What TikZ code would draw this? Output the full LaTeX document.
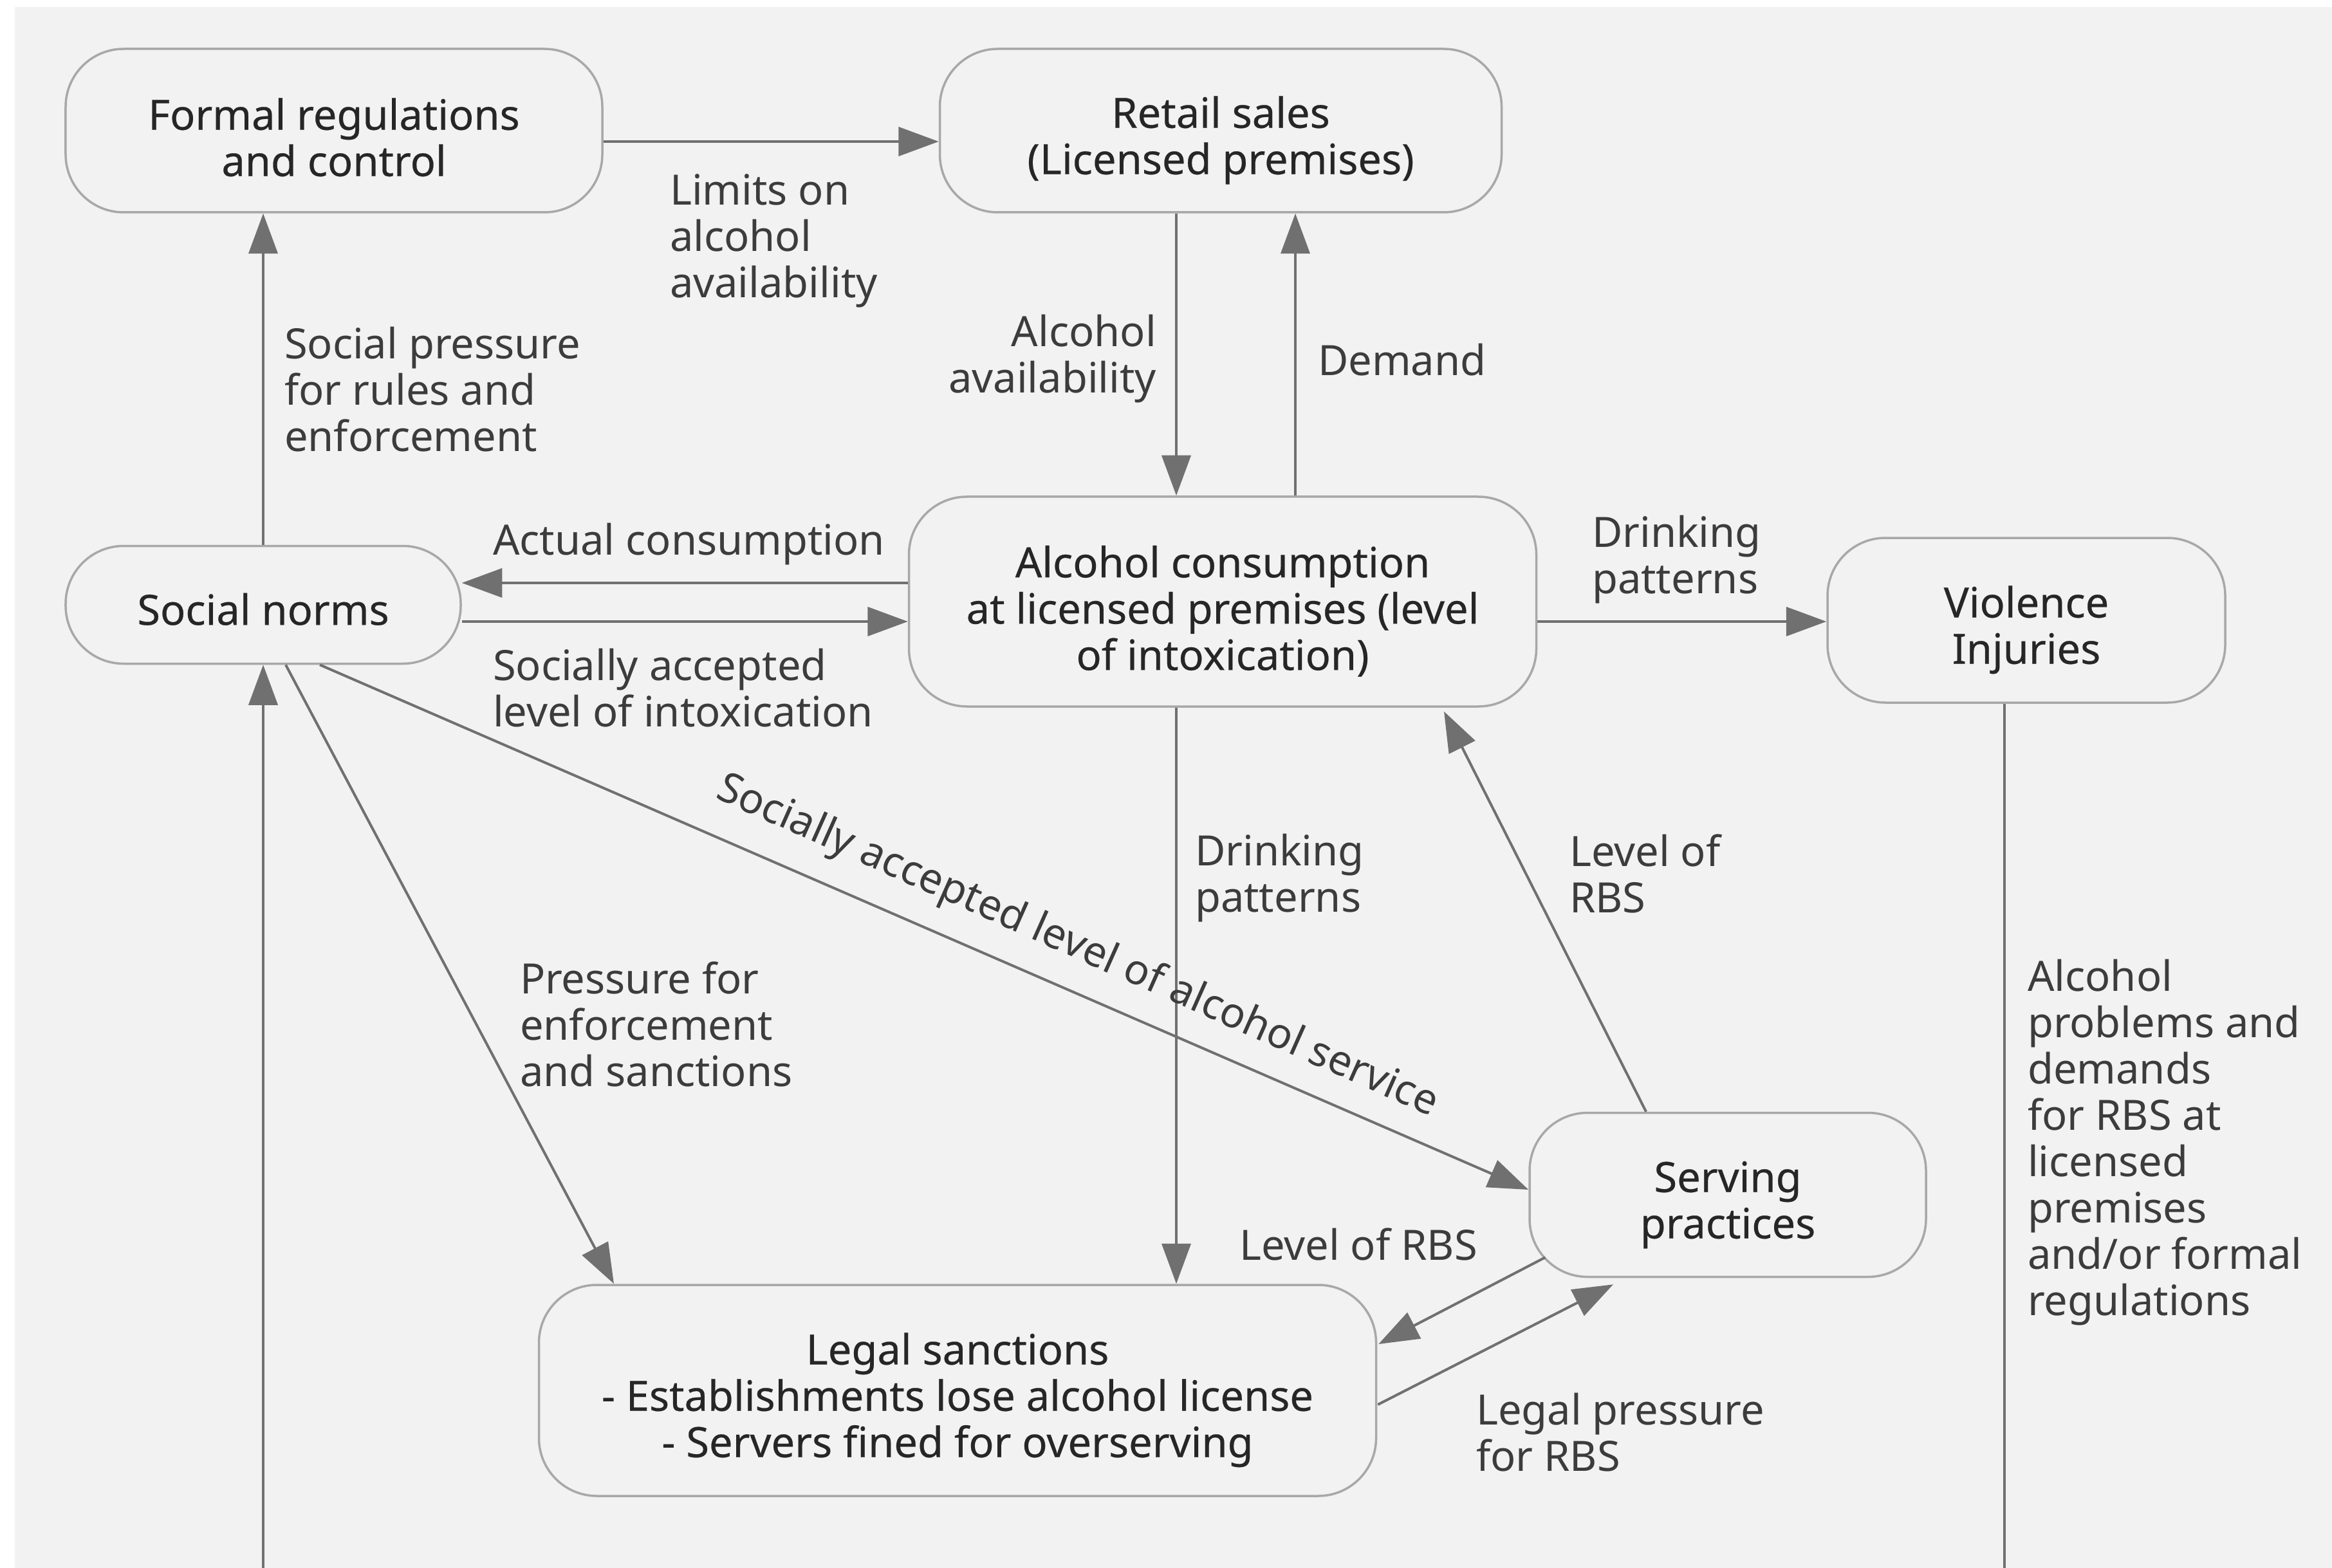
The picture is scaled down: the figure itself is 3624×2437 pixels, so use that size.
\documentclass[tikz,border=0pt]{standalone}
\usepackage{fontspec}
\setmainfont{Noto Sans}
\newfontfamily\boxfont{Noto Sans}[FakeBold=0.35]
\usetikzlibrary{arrows.meta,calc}
\definecolor{bgfill}{HTML}{F2F2F2}
\definecolor{linegray}{HTML}{707070}
\definecolor{boxline}{HTML}{A8A8A8}
\definecolor{txt}{HTML}{262626}
\definecolor{lbltxt}{HTML}{3C3C3C}
% raises the first line of a box so the text block sits a little lower
\newcommand\boxstrut[1][15.8pt]{\rule{0pt}{#1}}
\begin{document}
\begin{tikzpicture}[x=0.2pt,y=-0.2pt,
  box/.style={draw=boxline, line width=0.7pt, rounded corners=18pt, align=center,
    text=txt, font=\boxfont\fontsize{13}{14.4}\selectfont, inner sep=0pt},
  lbl/.style={text=lbltxt, font=\fontsize{13}{14.4}\selectfont, inner sep=0pt, align=left, anchor=west},
  arr/.style={draw=linegray, line width=0.8pt, -{Triangle[length=12.5pt,width=9pt]}},
  ln/.style={draw=linegray, line width=0.8pt}]

% page and panel
\useasboundingbox (0,0) rectangle (3624,2437);
\fill[white] (0,0) rectangle (3624,2437);
\fill[bgfill] (23,11) rectangle (3624,2437);

% boxes
\node[box, minimum width=166.8pt, minimum height=50.8pt] (frm) at (519,203) {\boxstrut[14pt]Formal regulations\\and control};
\node[box, minimum width=174.6pt, minimum height=50.8pt] (ret) at (1897,203) {\boxstrut Retail sales\\(Licensed premises)};
\node[box, minimum width=122.8pt, minimum height=36.6pt] (sn) at (409,940) {\boxstrut[12.6pt]Social norms};
\node[box, minimum width=195pt, minimum height=65.2pt] (ac) at (1900,935) {\boxstrut Alcohol consumption\\at licensed premises (level\\of intoxication)};
\node[box, minimum width=123.6pt, minimum height=51.2pt] (vi) at (3149,964) {\boxstrut Violence\\Injuries};
\node[box, minimum width=123.2pt, minimum height=51pt] (sp) at (2685,1857) {\boxstrut Serving\\practices};
\node[box, minimum width=260.2pt, minimum height=65.6pt] (ls) at (1488,2161) {\boxstrut Legal sanctions\\- Establishments lose alcohol license\\- Servers fined for overserving};

% helper positions
\coordinate (ya) at (0,220);
\coordinate (ye) at (0,906);
\coordinate (yf) at (0,966);
\coordinate (xb) at (1828,0);
\coordinate (xc) at (2013,0);
\coordinate (xm) at (3115,0);
\coordinate (botL) at (409,2437);
\coordinate (botR) at (3115,2437);

% connectors
\draw[arr] (frm.east |- ya) -- (ret.west |- ya);
\draw[arr] (xb |- ret.south) -- (xb |- ac.north);
\draw[arr] (xc |- ac.north) -- (xc |- ret.south);
\draw[arr] (sn.north) -- (sn.north |- frm.south);
\draw[arr] (ac.west |- ye) -- (sn.east |- ye);
\draw[arr] (sn.east |- yf) -- (ac.west |- yf);
\draw[arr] (ac.east |- yf) -- (vi.west |- yf);
\draw[arr] (xb |- ac.south) -- (xb |- ls.north);
\draw[arr] ($(sp.north)+(-127,0)$) -- ($(ac.south)+(344,6)$);
\draw[arr] ($(sn.south)+(88,0)$) -- ($(sp.west)+(0,-8)$);
\draw[arr] ($(sn.south)+(35,0)$) -- ($(ls.north)+(-534,0)$);
\draw[arr] (botL) -- (sn.south);
\draw[ln] (xm |- vi.south) -- (botR);
\draw[arr] ($(sp.south west)+(26,-32)$) -- ($(ls.east)+(2,-72)$);
\draw[arr] ($(ls.east)+(1,22)$) -- ($(sp.south)+(-178,10)$);

% connector labels
\node[lbl] (l1) at (1040,374) {Limits on\\alcohol\\availability};
\node[lbl, anchor=east, align=right] (l2) at (1798,558) {Alcohol\\availability};
\node[lbl] (l3) at (2047,559) {Demand};
\node[lbl] (l4) at (441,605) {Social pressure\\for rules and\\enforcement};
\node[lbl] (l5) at (765,846) {Actual consumption};
\node[lbl] (l6) at (765,1069) {Socially accepted\\level of intoxication};
\node[lbl] (l7) at (2473,870) {Drinking\\patterns};
\node[lbl] (l8) at (1856,1365) {Drinking\\patterns};
\node[lbl] (l9) at (2438,1358) {Level of\\RBS};
\node[lbl] (l10) at (807,1592) {Pressure for\\enforcement\\and sanctions};
\node[lbl] (l11) at (1925,1934) {Level of RBS};
\node[lbl] (l12) at (2293,2226) {Legal pressure\\for RBS};
\node[lbl] (l13) at (3150,1776) {Alcohol\\problems and\\demands\\for RBS at\\licensed\\premises\\and/or formal\\regulations};
\node[lbl, anchor=center, rotate=-24] (l14) at (1674,1472) {Socially accepted level of alcohol service};
\end{tikzpicture}
\end{document}
